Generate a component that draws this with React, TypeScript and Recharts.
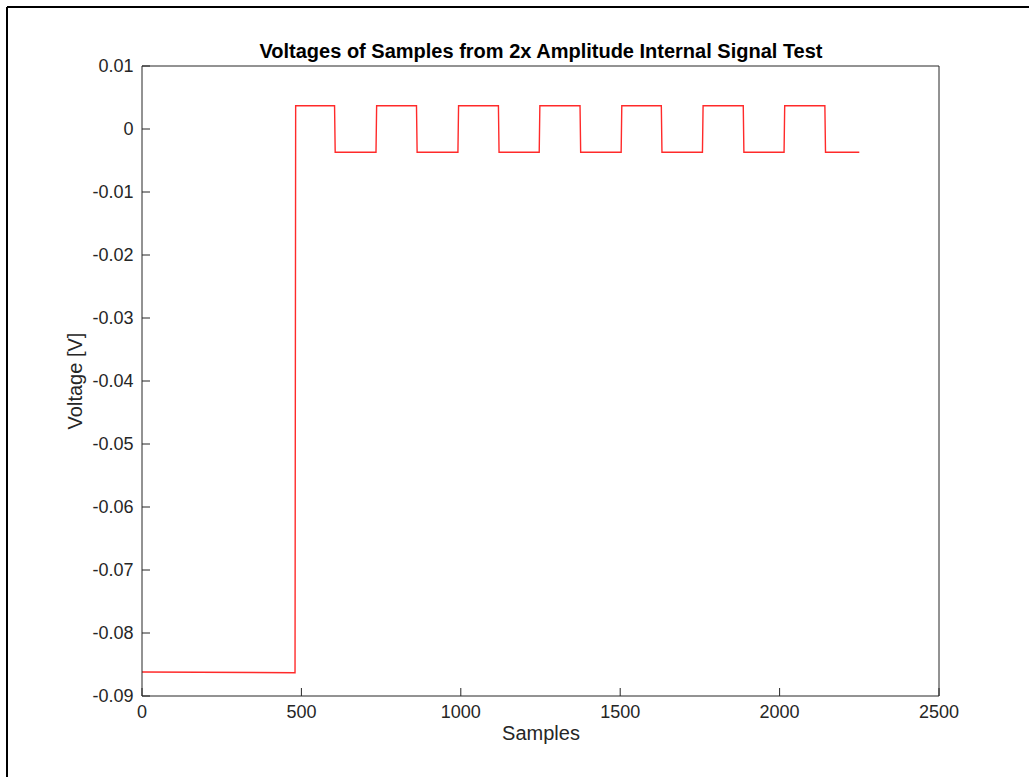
import React from 'react';
import { LineChart, Line, XAxis, YAxis } from 'recharts';

// Corner points of the recorded signal (sample index, voltage)
const sampleIdx = [
  0, 480, 482, 604, 606, 734, 736, 861, 863, 991, 993, 1118, 1120, 1246, 1248,
  1374, 1376, 1503, 1505, 1629, 1631, 1758, 1760, 1886, 1888, 2014, 2016, 2142, 2144, 2250,
];
const voltage = [
  -0.0862, -0.0863, 0.0037, 0.0037, -0.0037, -0.0037, 0.0037, 0.0037, -0.0037, -0.0037, 0.0037,
  0.0037, -0.0037, -0.0037, 0.0037, 0.0037, -0.0037, -0.0037, 0.0037, 0.0037, -0.0037, -0.0037,
  0.0037, 0.0037, -0.0037, -0.0037, 0.0037, 0.0037, -0.0037, -0.0037,
];

const xTicks = [0, 500, 1000, 1500, 2000, 2500];
const yTicks = [0.01, 0, -0.01, -0.02, -0.03, -0.04, -0.05, -0.06, -0.07, -0.08, -0.09];

const title = 'Voltages of Samples from 2x Amplitude Internal Signal Test';
const xLabel = 'Samples';
const yLabel = 'Voltage [V]';

const data = sampleIdx.map((x, i) => ({ x, v: voltage[i] }));

const FONT = '"Liberation Sans", Arial, Helvetica, sans-serif';
const AX = '#262626';

export default function App() {
  const tickStyle = { fill: AX, fontSize: 18, fontFamily: FONT };
  return (
    <div style={{ position: 'absolute', left: 0, top: 0, width: 1029, height: 777, background: '#fff', overflow: 'hidden' }}>
      <LineChart
        width={1029}
        height={777}
        data={data}
        margin={{ top: 65, right: 89, bottom: 41, left: 62 }}
        style={{ fontFamily: FONT }}
      >
        <XAxis
          dataKey="x"
          type="number"
          domain={[0, 2500]}
          ticks={xTicks}
          interval={0}
          height={40}
          tickSize={-8}
          tickMargin={17.5}
          axisLine={{ stroke: AX }}
          tickLine={{ stroke: AX }}
          tick={tickStyle}
          allowDataOverflow
        />
        <XAxis
          xAxisId="top"
          orientation="top"
          dataKey="x"
          type="number"
          domain={[0, 2500]}
          ticks={xTicks}
          interval={0}
          height={1}
          tickSize={-8}
          axisLine={{ stroke: AX }}
          tickLine={{ stroke: AX }}
          tick={false}
          allowDataOverflow
        />
        <YAxis
          type="number"
          domain={[-0.09, 0.01]}
          ticks={yTicks}
          interval={0}
          width={80}
          tickSize={-8}
          tickMargin={16.5}
          axisLine={{ stroke: AX }}
          tickLine={{ stroke: AX }}
          tick={tickStyle}
          allowDataOverflow
        />
        <YAxis
          yAxisId="right"
          orientation="right"
          type="number"
          domain={[-0.09, 0.01]}
          ticks={yTicks}
          interval={0}
          width={1}
          tickSize={-8}
          axisLine={{ stroke: AX }}
          tickLine={{ stroke: AX }}
          tick={false}
          allowDataOverflow
        />
        <Line
          type="linear"
          dataKey="v"
          stroke="#ff2a2a"
          strokeWidth={1.4}
          dot={false}
          activeDot={false}
          isAnimationActive={false}
        />
      </LineChart>
      <svg
        width={1029}
        height={777}
        style={{ position: 'absolute', left: 0, top: 0, pointerEvents: 'none' }}
      >
        <line x1={7} y1={7} x2={1029} y2={7} stroke="#000" strokeWidth={2} />
        <line x1={7} y1={7} x2={7} y2={777} stroke="#000" strokeWidth={2} />
        <text x={541} y={58} textAnchor="middle" fontFamily={FONT} fontWeight="bold" fontSize={20} fill="#000">
          {title}
        </text>
        <text x={541} y={740} textAnchor="middle" fontFamily={FONT} fontSize={20} fill={AX}>
          {xLabel}
        </text>
        <text
          x={0}
          y={0}
          transform="translate(81.5,381) rotate(-90)"
          textAnchor="middle"
          fontFamily={FONT}
          fontSize={20}
          fill={AX}
        >
          {yLabel}
        </text>
      </svg>
    </div>
  );
}
